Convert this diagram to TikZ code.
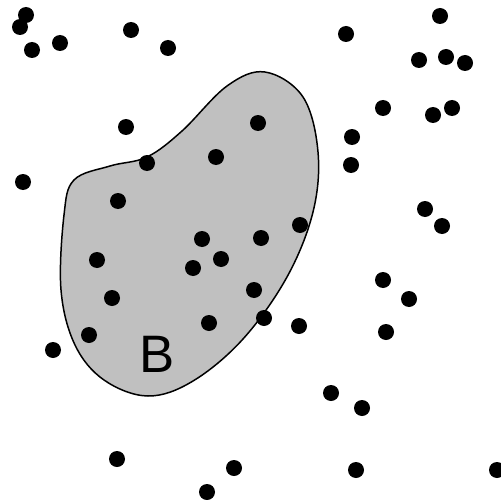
\documentclass[tikz,border=0pt]{standalone}
\usepackage{fontspec}
\setmainfont{Liberation Sans}
\definecolor{blobgray}{RGB}{192,192,192}
\begin{document}
\begin{tikzpicture}[x=0.02cm,y=-0.02cm,
  dot/.style={fill=black},
  blob/.style={fill=blobgray,draw=black,line width=0.85pt}]
\useasboundingbox (0,0) rectangle (500,500);
\fill[white] (0,0) rectangle (500,500);
\draw[blob] plot[smooth cycle,tension=0.6] coordinates {
(265,72) (303,97) (318,152) (313,212) (287,277) (243,339) (193,381)
(148,396) (104,380) (75,345) (61,290) (64,215) (74,180) (110,166)
(147,157) (182,131) (227,86)};
\node[font=\fontsize{30}{36}\selectfont, inner sep=0pt] (B) at (157,354) {B};
\foreach \x/\y in {
26/15, 20/27, 32/50, 60/43, 131/30, 168/48, 126/127, 147/163, 216/157,
23/182, 118/201, 202/239, 440/16, 346/34, 419/60, 446/57, 465/63,
383/108, 433/115, 452/108, 352/137, 351/165, 425/209, 442/226,
258/123, 300/225, 261/238, 97/260, 221/259, 193/268, 112/298,
254/290, 209/323, 89/335, 53/350, 117/459, 234/468, 207/492,
264/318, 299/326, 383/280, 409/299, 386/332, 331/393, 362/408,
356/470, 497/470}
  \fill[dot] (\x,\y) circle[radius=8];
\end{tikzpicture}
\end{document}
